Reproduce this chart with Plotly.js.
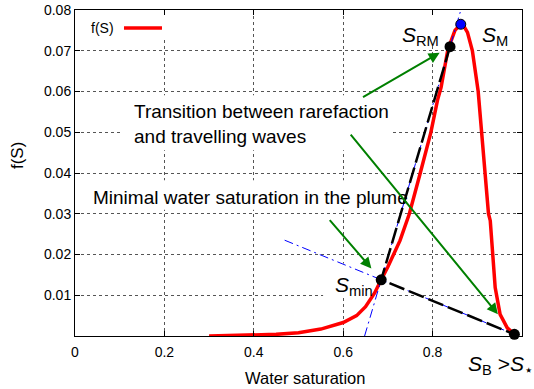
<!DOCTYPE html>
<html>
<head>
<meta charset="utf-8">
<script src="https://cdn.plot.ly/plotly-3.0.1.min.js"></script>
<style>
  html, body { margin: 0; padding: 0; background: #fff; }
  #chart { width: 534px; height: 389px; }
</style>
</head>
<body>
<div id="chart"></div>
<script>
// Fractional flow curve f(S) against water saturation S
const satS = [0.30, 0.35, 0.40, 0.45, 0.50, 0.55, 0.60, 0.63, 0.65, 0.67, 0.685, 0.70,
              0.727, 0.748, 0.772, 0.796, 0.811, 0.819, 0.834, 0.850, 0.863, 0.870,
              0.878, 0.889, 0.902, 0.910, 0.918, 0.925, 0.929, 0.934, 0.940, 0.951,
              0.967, 0.983];
const fS   = [0.0, 0.0001, 0.0002, 0.0004, 0.0008, 0.0017, 0.0033, 0.0050, 0.0072, 0.0105, 0.0138, 0.0170,
              0.0234, 0.0300, 0.0398, 0.0499, 0.0579, 0.0610, 0.0702, 0.0750, 0.0765, 0.0760,
              0.0745, 0.0700, 0.0600, 0.0500, 0.0400, 0.0300, 0.0283, 0.0201, 0.0119, 0.0053,
              0.0020, 0.0004];

// Characteristic saturations
const pointNames = ['Smin', 'SRM', 'SM', 'SB'];
const pointS = [0.685, 0.839, 0.863, 0.983];
const pointF = [0.0138, 0.0710, 0.0765, 0.0004];

// Axis ticks
const xTickVals = [0, 0.2, 0.4, 0.6, 0.8];
const xTickText = ['0', '0.2', '0.4', '0.6', '0.8'];
const yTickVals = [0.01, 0.02, 0.03, 0.04, 0.05, 0.06, 0.07, 0.08];
const yTickText = ['0.01', '0.02', '0.03', '0.04', '0.05', '0.06', '0.07', '0.08'];

const X_RANGE = [0, 1];
const Y_RANGE = [0, 0.08];

const P = {};
pointNames.forEach((n, i) => { P[n] = { s: pointS[i], f: pointF[i] }; });

// Chord Smin -> SB, extended to the left and right
const slopeB = (P.SB.f - P.Smin.f) / (P.SB.s - P.Smin.s);
const chordBx = [0.469, 1.0];
const chordBy = chordBx.map(s => P.Smin.f + slopeB * (s - P.Smin.s));

// Tangent Smin -> SRM, extended from f = 0 upwards
const slopeR = (P.SRM.f - P.Smin.f) / (P.SRM.s - P.Smin.s);
const tanRy = [0, 0.0795];
const tanRx = tanRy.map(f => P.Smin.s + (f - P.Smin.f) / slopeR);

const FONT = 'Liberation Sans, Arial, Helvetica, sans-serif';
const GREEN = 'rgb(0,128,0)';

const traces = [
  { x: satS, y: fS, mode: 'lines', name: 'f(S)',
    line: { color: 'rgb(255,0,0)', width: 3.5 }, hoverinfo: 'skip' },
  { x: chordBx, y: chordBy, mode: 'lines',
    line: { color: 'rgb(0,0,255)', width: 1, dash: '9px,4px,2px,4px' } },
  { x: tanRx, y: tanRy, mode: 'lines',
    line: { color: 'rgb(0,0,255)', width: 1, dash: '9px,4px,2px,4px' } },
  { x: [P.SRM.s, P.Smin.s, P.SB.s], y: [P.SRM.f, P.Smin.f, P.SB.f], mode: 'lines',
    line: { color: '#000', width: 2.5, dash: '16px,5px' } },
  { x: [P.Smin.s, P.SRM.s, P.SB.s], y: [P.Smin.f, P.SRM.f, P.SB.f], mode: 'markers',
    marker: { color: '#000', size: 11 }, cliponaxis: false },
  { x: [P.SM.s], y: [P.SM.f], mode: 'markers',
    marker: { color: 'rgb(0,0,255)', size: 10, line: { color: '#000', width: 1 } }, cliponaxis: false }
];

// White patches behind the labels, between grid and curves
function patch(x0, x1, y0, y1) {
  return { type: 'rect', xref: 'x', yref: 'y', x0, x1, y0, y1, layer: 'between',
           fillcolor: '#fff', line: { width: 0 } };
}

const shapes = [
  patch(0.0, 0.26, 0.0727, 0.08),
  patch(0.107, 0.710, 0.0456, 0.0591),
  patch(0.015, 0.72, 0.0310, 0.0382),
  patch(0.555, 0.68, 0.0095, 0.0178),
  patch(0.725, 0.81, 0.0718, 0.0785),
  // key sample line
  { type: 'line', xref: 'paper', yref: 'paper', x0: 0.1096, x1: 0.1946, y0: 0.9448, y1: 0.9448,
    line: { color: 'rgb(255,0,0)', width: 3.5 } }
];

function sLabel(text, x, y) {
  return { x, y, xref: 'x', yref: 'y', xanchor: 'center', yanchor: 'middle', text, showarrow: false,
    font: { family: FONT, size: 21, color: '#000' } };
}

function arrow(tailS, tailF, target, standoff) {
  return { x: target.s, y: target.f, xref: 'x', yref: 'y', ax: tailS, ay: tailF,
    axref: 'x', ayref: 'y', text: '', showarrow: true, arrowhead: 2, arrowsize: 1.1,
    arrowwidth: 2, arrowcolor: GREEN, standoff };
}

// Label below the axis: placed in paper units derived from the data ranges
const sbLabelS = 0.951, sbLabelF = -0.0071;

const annotations = [
  { x: 0.0925, y: 0.9448, xref: 'paper', yref: 'paper', xanchor: 'right', yanchor: 'middle',
    text: 'f(S)', showarrow: false, font: { family: FONT, size: 14, color: '#000' } },
  { x: 0.127, y: 0.0521, xref: 'x', yref: 'y', xanchor: 'left', yanchor: 'middle', align: 'left',
    showarrow: false, text: 'Transition between rarefaction<br>and travelling waves',
    font: { family: FONT, size: 19, color: '#000' } },
  { x: 0.035, y: 0.0340, xref: 'x', yref: 'y', xanchor: 'left', yanchor: 'middle', showarrow: false,
    text: 'Minimal water saturation in the plume',
    font: { family: FONT, size: 19, color: '#000' } },
  sLabel('<i>S</i><sub>RM</sub>', 0.772, 0.0735),
  sLabel('<i>S</i><sub>M</sub>', 0.940, 0.0735),
  sLabel('<i>S</i><sub>min</sub>', 0.625, 0.0122),
  { x: (sbLabelS - X_RANGE[0]) / (X_RANGE[1] - X_RANGE[0]),
    y: (sbLabelF - Y_RANGE[0]) / (Y_RANGE[1] - Y_RANGE[0]),
    xref: 'paper', yref: 'paper', xanchor: 'center', yanchor: 'middle', showarrow: false,
    text: '<i>S</i><sub>B</sub> &gt;<i>S</i><sub>⋆</sub>',
    font: { family: FONT, size: 21, color: '#000' } },
  arrow(0.641, 0.0584, P.SRM, 12),
  arrow(0.614, 0.0498, P.SB, 26),
  arrow(0.567, 0.0288, P.Smin, 15),
  { x: 0.5145, y: -0.1288, xref: 'paper', yref: 'paper', xanchor: 'center', yanchor: 'middle',
    text: 'Water saturation', showarrow: false, font: { family: FONT, size: 16.5, color: '#000' } },
  { x: -0.1298, y: 0.555, xref: 'paper', yref: 'paper', xanchor: 'center', yanchor: 'middle',
    text: 'f(S)', textangle: -90, showarrow: false, font: { family: FONT, size: 17, color: '#000' } }
];

const axisCommon = {
  showline: true, linecolor: '#000', linewidth: 1, mirror: 'ticks',
  ticks: 'inside', ticklen: 5, tickcolor: '#000', tickwidth: 1,
  showgrid: true, gridcolor: '#555', griddash: 'dot', gridwidth: 1,
  zeroline: false, tickfont: { family: FONT, size: 14, color: '#000' },
  fixedrange: true
};

const layout = {
  width: 534, height: 389,
  margin: { l: 75, r: 12, t: 10, b: 53 },
  paper_bgcolor: '#fff', plot_bgcolor: '#fff',
  showlegend: false,
  xaxis: Object.assign({}, axisCommon, { range: X_RANGE, tickmode: 'array',
    tickvals: xTickVals, ticktext: xTickText, ticklabelstandoff: 3 }),
  yaxis: Object.assign({}, axisCommon, { range: Y_RANGE, tickmode: 'array',
    tickvals: yTickVals, ticktext: yTickText, ticklabelstandoff: 0 }),
  shapes, annotations
};

Plotly.newPlot('chart', traces, layout, { staticPlot: true, displayModeBar: false });
</script>
</body>
</html>
